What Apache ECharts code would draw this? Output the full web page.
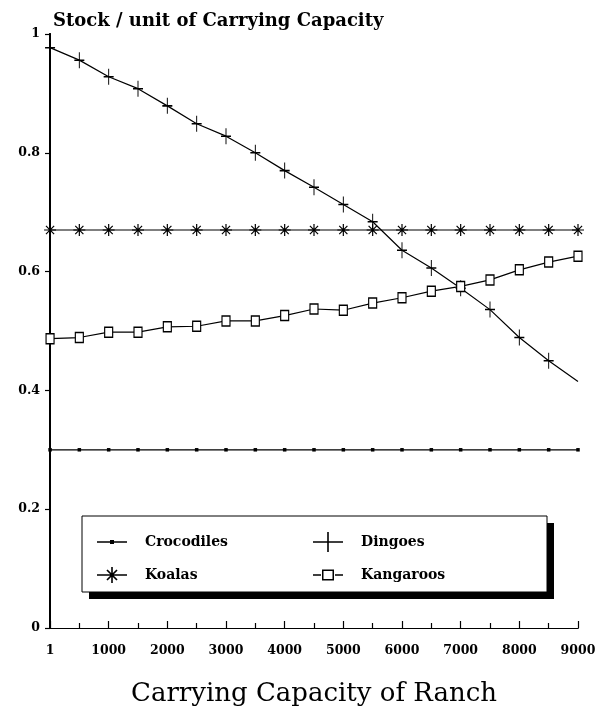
<!DOCTYPE html>
<html>
<head>
<meta charset="utf-8">
<script src="https://cdn.jsdelivr.net/npm/echarts@6/dist/echarts.min.js"></script>
<style>
  html, body { margin: 0; padding: 0; background: #fff; }
  #chart { width: 602px; height: 712px; }
</style>
</head>
<body>
<div id="chart"></div>
<script>
// carrying capacity (x) and stock per unit for each animal
var capacity   = [1, 500, 1000, 1500, 2000, 2500, 3000, 3500, 4000, 4500, 5000, 5500, 6000, 6500, 7000, 7500, 8000, 8500, 9000];
var crocodiles = [0.30, 0.30, 0.30, 0.30, 0.30, 0.30, 0.30, 0.30, 0.30, 0.30, 0.30, 0.30, 0.30, 0.30, 0.30, 0.30, 0.30, 0.30, 0.30];
var koalas     = [0.67, 0.67, 0.67, 0.67, 0.67, 0.67, 0.67, 0.67, 0.67, 0.67, 0.67, 0.67, 0.67, 0.67, 0.67, 0.67, 0.67, 0.67, 0.67];
var dingoes    = [0.977, 0.956, 0.928, 0.908, 0.879, 0.849, 0.828, 0.800, 0.770, 0.742, 0.713, 0.684, 0.636, 0.606, 0.572, 0.536, 0.489, 0.450, 0.415];
var kangaroos  = [0.487, 0.489, 0.498, 0.498, 0.507, 0.508, 0.517, 0.517, 0.526, 0.537, 0.535, 0.547, 0.556, 0.567, 0.575, 0.586, 0.603, 0.616, 0.626];
var xTicks = [1, 1000, 2000, 3000, 4000, 5000, 6000, 7000, 8000, 9000];

var serif = '"DejaVu Serif", "Liberation Serif", serif';
var asterisk = 'path://M0 5L10 5M5 0L5 10M1.6 1.6L8.4 8.4M8.4 1.6L1.6 8.4';
var plus = 'path://M5 0L5 14M0 7L10 7';

// legend icons: line + marker drawn as filled shapes (30 x 20 box)
var iconCroc = 'path://M0 9.2h30v1.6h-30z M13 8h4v4h-4z';
var iconDingo = 'path://M0 9.2h30v1.6h-30z M14.2 0h1.6v20h-1.6z';
var iconKoala = 'path://M0 9.2h30v1.6h-30z M14.2 2h1.6v16h-1.6z M9.4 5.6L10.6 4.4L20.6 14.4L19.4 15.6Z M19.4 4.4L20.6 5.6L10.6 15.6L9.4 14.4Z';
var iconKanga = 'path://M0 9.2h8v1.6h-8z M22 9.2h8v1.6h-8z M9 4.5h12v1.5h-12z M9 14h12v1.5h-12z M9 4.5h1.5v11h-1.5z M19.5 4.5h1.5v11h-1.5z';

function pairs(vals) {
  return capacity.map(function (c, i) { return [c, vals[i]]; });
}

var dingoData = pairs(dingoes);
// the last dingo point has no marker in the original
dingoData[dingoData.length - 1] = { value: dingoData[dingoData.length - 1], symbol: 'none' };

var legendText = { fontFamily: serif, fontSize: 14, fontWeight: 'bold', color: '#000', lineHeight: 20, padding: [0, 0, 0, 13] };

var chart = echarts.init(document.getElementById('chart'));

chart.setOption({
  animation: false,
  backgroundColor: '#fff',
  title: {
    text: 'Stock / unit of Carrying Capacity',
    left: 53, top: 12, padding: 0,
    textStyle: { fontFamily: serif, fontSize: 18, fontWeight: 'bold', color: '#000' }
  },
  grid: { left: 50, right: 24, top: 34, bottom: 80 },
  graphic: [{
    type: 'rect', z: 3,
    shape: { x: 89, y: 523, width: 465, height: 76 },
    style: { fill: '#000' }
  }, {
    type: 'rect', z: 3,
    shape: { x: 82, y: 516, width: 465, height: 76 },
    style: { fill: '#fff', stroke: '#000', lineWidth: 1 }
  }],
  legend: [{
    data: [{ name: 'Crocodiles', icon: iconCroc }, { name: 'Koalas', icon: iconKoala }],
    orient: 'vertical', left: 97, top: 532, itemGap: 13, padding: 0,
    itemWidth: 30, itemHeight: 20, z: 5,
    itemStyle: { color: '#000', borderWidth: 0 },
    textStyle: legendText
  }, {
    data: [{ name: 'Dingoes', icon: iconDingo }, { name: 'Kangaroos', icon: iconKanga }],
    orient: 'vertical', left: 313, top: 532, itemGap: 13, padding: 0,
    itemWidth: 30, itemHeight: 20, z: 5,
    itemStyle: { color: '#000', borderWidth: 0 },
    textStyle: legendText
  }],
  xAxis: [{
    type: 'value', min: 0, max: 9000, interval: 1000,
    name: 'Carrying Capacity of Ranch', nameLocation: 'middle', nameGap: 53,
    nameTextStyle: { fontFamily: serif, fontSize: 26, color: '#000' },
    axisLine: { lineStyle: { color: '#000', width: 1.2 } },
    axisTick: { inside: true, length: 7, lineStyle: { color: '#000', width: 1.2 } },
    minorTick: { show: true, splitNumber: 2, length: 5, lineStyle: { color: '#000', width: 1.2 } },
    axisLabel: {
      fontFamily: serif, fontSize: 12.5, fontWeight: 'bold', color: '#000', margin: 16,
      formatter: function (v) { return v === 0 ? String(xTicks[0]) : String(v); }
    },
    splitLine: { show: false }
  }, {
    type: 'value', min: 0, max: 9000, position: 'top',
    axisLine: { lineStyle: { color: '#000', width: 1.2, type: [14, 4] } },
    axisTick: { show: false }, axisLabel: { show: false }, splitLine: { show: false }
  }],
  yAxis: [{
    type: 'value', min: 0, max: 1, interval: 0.2,
    axisLine: { show: true, lineStyle: { color: '#000', width: 2 } },
    axisTick: { show: true, length: 5, lineStyle: { color: '#000', width: 1.2 } },
    axisLabel: { fontFamily: serif, fontSize: 12.5, fontWeight: 'bold', color: '#000', margin: 10 },
    splitLine: { show: false }
  }, {
    type: 'value', min: 0, max: 1, position: 'right',
    axisLine: { show: true, lineStyle: { color: '#000', width: 2 } },
    axisTick: { show: false }, axisLabel: { show: false }, splitLine: { show: false }
  }],
  series: [{
    name: 'Crocodiles', type: 'line', data: pairs(crocodiles),
    symbol: 'rect', symbolSize: 3.5,
    itemStyle: { color: '#000' },
    lineStyle: { color: '#000', width: 1.2 }
  }, {
    name: 'Dingoes', type: 'line', data: dingoData,
    symbol: plus, symbolSize: [10, 16],
    itemStyle: { color: '#000', borderColor: '#000', borderWidth: 1.2 },
    lineStyle: { color: '#000', width: 1.2 }
  }, {
    name: 'Koalas', type: 'line', data: pairs(koalas),
    symbol: asterisk, symbolSize: 12,
    itemStyle: { color: '#000', borderColor: '#000', borderWidth: 1.2 },
    lineStyle: { color: '#000', width: 1.2 }
  }, {
    name: 'Kangaroos', type: 'line', data: pairs(kangaroos),
    symbol: 'rect', symbolSize: [8, 10],
    itemStyle: { color: '#fff', borderColor: '#000', borderWidth: 1.3 },
    lineStyle: { color: '#000', width: 1.2 }
  }]
});
</script>
</body>
</html>
